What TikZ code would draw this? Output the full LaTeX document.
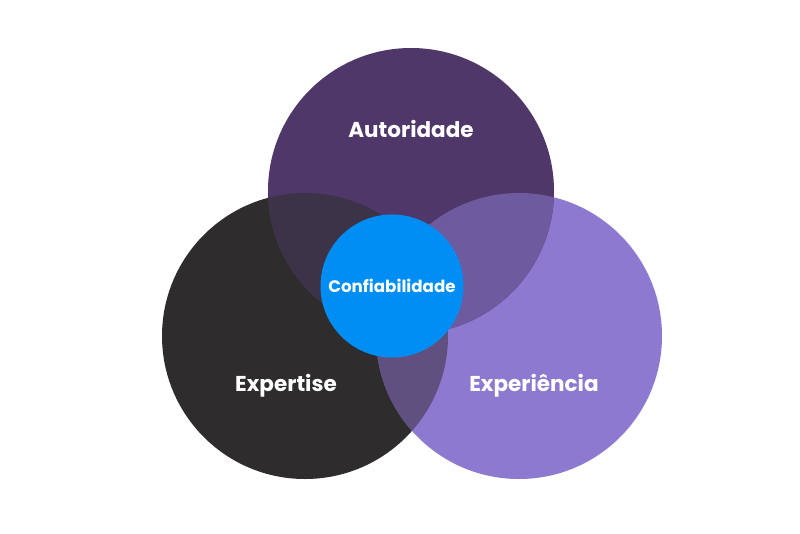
\documentclass[tikz,border=0pt]{standalone}
\usepackage{fontspec}
\setmainfont{Poppins}
\definecolor{cTop}{HTML}{4F3769}
\definecolor{cLeft}{HTML}{2E2C2D}
\definecolor{cRight}{HTML}{8E79D1}
\definecolor{cTL}{HTML}{3D3349}
\definecolor{cTR}{HTML}{6E5A9E}
\definecolor{cLR}{HTML}{5F5080}
\definecolor{cMid}{HTML}{008EF5}
\tikzset{
  venn/.style={circle, inner sep=0pt, minimum size=286pt, draw=none},
  lbl/.style={text=white, font=\bfseries\fontsize{21.5}{24}\selectfont},
}
\begin{document}
\begin{tikzpicture}[x=1pt,y=-1pt]
\useasboundingbox[fill=white] (0,0) rectangle (800,533);
\def\R{143}
\node[venn, fill=cLeft] (left) at (305,336) {};
\node[venn, fill=cRight] (right) at (519,336) {};
\node[venn, fill=cTop] (top) at (411,191) {};
% overlaps
\begin{scope}
  \clip (305,336) circle (\R);
  \fill[cLR] (519,336) circle (\R);
  \fill[cTL] (411,191) circle (\R);
\end{scope}
\begin{scope}
  \clip (519,336) circle (\R);
  \fill[cTR] (411,191) circle (\R);
\end{scope}
\node[circle, inner sep=0pt, minimum size=143pt, fill=cMid] (mid) at (392,286) {};
\node[lbl] (tA) at (411,129) {Autoridade};
\node[lbl] (tE) at (286,386) {Expertise};
\node[lbl] (tX) at (534,386) {Experiência};
\node[lbl, font=\bfseries\fontsize{16.7}{19}\selectfont] (tC) at (392,286) {Confiabilidade};
\end{tikzpicture}
\end{document}
